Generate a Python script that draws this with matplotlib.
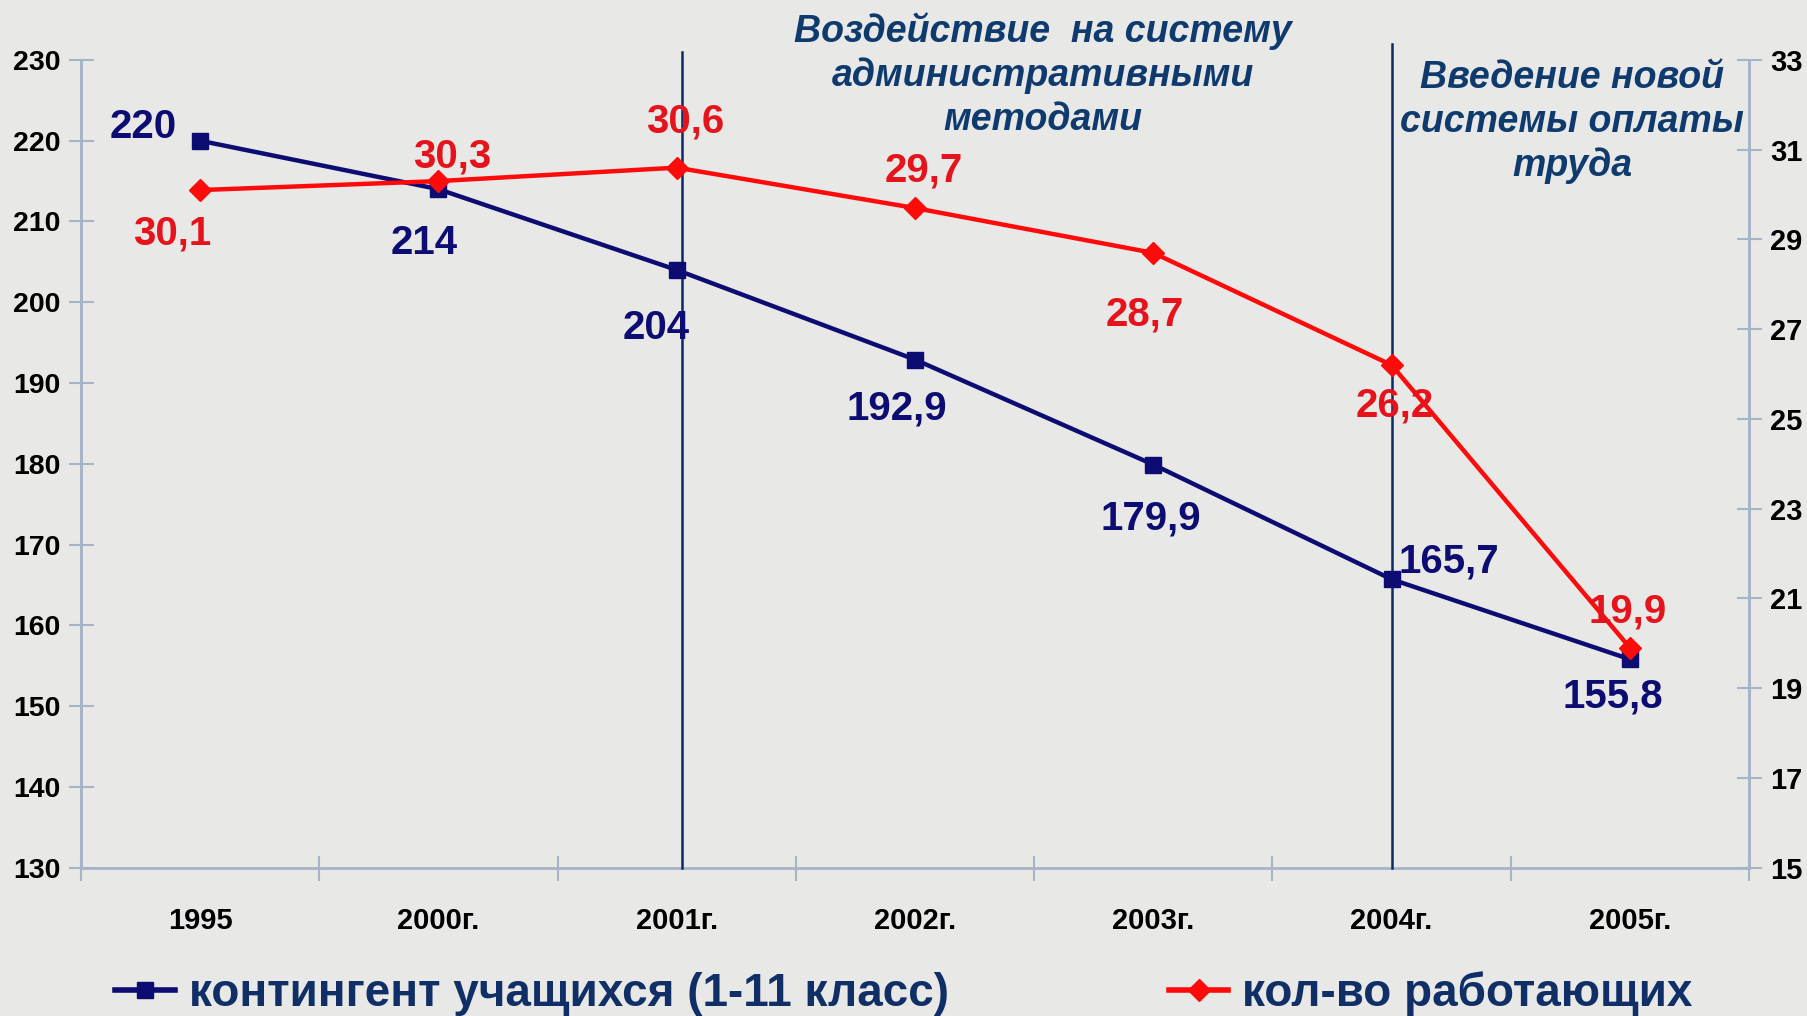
import matplotlib.pyplot as plt
from matplotlib.lines import Line2D

years = ["1995", "2000г.", "2001г.", "2002г.", "2003г.", "2004г.", "2005г."]
students = [220, 214, 204, 192.9, 179.9, 165.7, 155.8]
workers = [30.1, 30.3, 30.6, 29.7, 28.7, 26.2, 19.9]
student_label_offsets = [(-41, 10), (-10, -39), (-15, -42), (-13, -35), (-2, -39), (41, 13), (-12, -27)]
worker_label_offsets = [(-20, -31), (10, 18), (6, 33), (6, 27), (-6, -44), (2, -29), (-2, 26)]

plt.rcParams["font.family"] = ["Liberation Sans", "DejaVu Sans"]
plt.rcParams["font.weight"] = "bold"

BG = "#e8e8e6"
NAVY = "#0c0c72"
RED = "#ff0a0a"
RED_TXT = "#e5141c"
TXT = "#0f3a6e"
SPINE = "#a7b4c8"

fig = plt.figure(figsize=(18.08, 10.16), dpi=100, facecolor=BG)
ax = fig.add_axes([0.0448, 0.146, 0.9226, 0.795])
ax.set_facecolor(BG)
ax2 = ax.twinx()

x = list(range(len(years)))

ax.plot(x, students, color=NAVY, lw=3.2, marker="s", ms=12, zorder=5, clip_on=False)
ax2.plot(x, workers, color=RED, lw=3.2, marker="D", ms=11, zorder=6, clip_on=False)

ax.set_xlim(-0.5, 6.5)
ax.set_ylim(130, 230)
ax.set_yticks(range(130, 231, 10))
ax2.set_ylim(15, 33)
ax2.set_yticks(range(15, 34, 2))

ax.set_xticks(x)
ax.set_xticklabels(years, fontsize=21, fontweight="bold")
ax.set_xticks([i - 0.5 for i in range(len(years) + 1)], minor=True)
ax.tick_params(axis="x", which="major", length=0, pad=28)
ax.tick_params(axis="x", which="minor", length=18, direction="inout", color=SPINE, width=1.5)
ax.tick_params(axis="y", length=18, direction="inout", color=SPINE, width=1.5, labelsize=20.5, pad=6)
ax2.tick_params(axis="y", length=18, direction="inout", color=SPINE, width=1.5, labelsize=21, pad=6)

for a in (ax, ax2):
    a.spines["top"].set_visible(False)
    a.spines["left"].set_color(SPINE)
    a.spines["right"].set_color(SPINE)
    a.spines["bottom"].set_color(SPINE)
    for s in a.spines.values():
        s.set_linewidth(2)
ax2.spines["bottom"].set_visible(False)

# event lines
ax.axvline(2.02, ymin=0, ymax=1.01, color="#0c2a68", lw=1.8, clip_on=False, zorder=3)
ax.axvline(5.0, ymin=0, ymax=1.02, color="#0c2a68", lw=1.8, clip_on=False, zorder=3)

for i, v in enumerate(students):
    dx, dy = student_label_offsets[i]
    ax.annotate(f"{v:g}".replace(".", ","), (i, v), xytext=(dx, dy), textcoords="offset points",
                ha="center", va="center", fontsize=29, fontweight="bold", color=NAVY, zorder=8,
                annotation_clip=False)
for i, v in enumerate(workers):
    dx, dy = worker_label_offsets[i]
    ax2.annotate(f"{v:g}".replace(".", ","), (i, v), xytext=(dx, dy), textcoords="offset points",
                 ha="center", va="center", fontsize=29, fontweight="bold", color=RED_TXT, zorder=8,
                 annotation_clip=False)

fig.text(1043 / 1808, 1 - 75 / 1016, "Воздействие  на систему\nадминистративными\nметодами",
         ha="center", va="center", fontsize=27, fontweight="bold", style="italic",
         color=TXT, linespacing=1.26)
fig.text(1572 / 1808, 1 - 122 / 1016, "Введение новой\nсистемы оплаты\nтруда",
         ha="center", va="center", fontsize=27, fontweight="bold", style="italic",
         color=TXT, linespacing=1.26)

handles = [
    Line2D([], [], color=NAVY, lw=4, marker="s", ms=12),
    Line2D([], [], color=RED, lw=4, marker="D", ms=11),
]
leg = fig.legend(handles, ["контингент учащихся (1-11 класс)", "кол-во работающих"],
                 loc="center", bbox_to_anchor=(0.5, 0.022), ncol=2, frameon=False,
                 handlelength=1.3, handletextpad=0.3, columnspacing=4.8,
                 prop={"weight": "bold", "size": 33})
for t in leg.get_texts():
    t.set_color("#0f2f66")

fig.savefig("out.png", dpi=100, facecolor=BG)
